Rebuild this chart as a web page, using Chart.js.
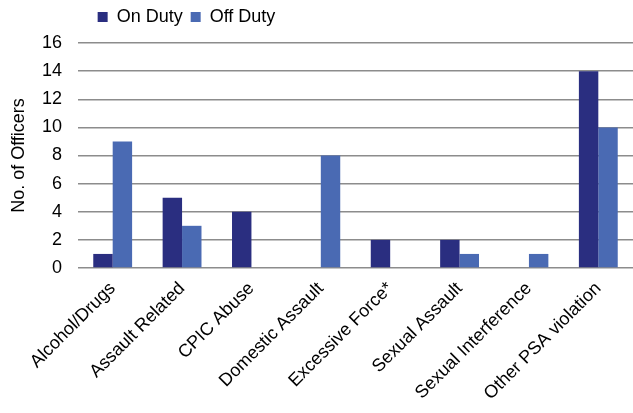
<!DOCTYPE html>
<html>
<head>
<meta charset="utf-8">
<title>Officers by Allegation Type</title>
<script src="https://cdn.jsdelivr.net/npm/chart.js@4/dist/chart.umd.min.js"></script>
<style>
    html, body { margin: 0; padding: 0; background: #fff; }
    #wrap { width: 633px; height: 413px; position: relative; }
</style>
</head>
<body>
<div id="wrap"><canvas id="officersChart"></canvas></div>
<script>
// Allegation categories and officer counts
const categories = [
    'Alcohol/Drugs', 'Assault Related', 'CPIC Abuse', 'Domestic Assault',
    'Excessive Force*', 'Sexual Assault', 'Sexual Interference', 'Other PSA violation'
];
const onDuty = [1, 5, 4, 0, 2, 2, 0, 14];
const offDuty = [9, 3, 0, 8, 0, 1, 1, 10];
const yTicks = [0, 2, 4, 6, 8, 10, 12, 14, 16];

const FONT = "'Liberation Sans', Arial, sans-serif";
const NAVY = '#2a2e80';
const BLUE = '#4a6ab3';

// Fixed legend band height, and legend centred over the left part of the chart
const legendTweak = {
    id: 'legendTweak',
    beforeLayout(chart) {
        const lg = chart.legend;
        if (!lg || lg._fitPatched) return;
        const fit = lg.fit;
        lg.fit = function () {
            fit.call(this);
            this.height = 43;
        };
        lg._fitPatched = true;
    },
    beforeDraw(chart) {
        const lg = chart.legend;
        if (!lg) return;
        lg.left = 0;
        lg.right = 373;
    }
};

const ctx = document.getElementById('officersChart').getContext('2d');

const chart = new Chart(ctx, {
    type: 'bar',
    data: {
        labels: categories,
        datasets: [
            { label: 'On Duty', data: onDuty, backgroundColor: NAVY },
            { label: 'Off Duty', data: offDuty, backgroundColor: BLUE }
        ]
    },
    options: {
        responsive: true,
        maintainAspectRatio: false,
        animation: false,
        layout: { padding: 0 },
        datasets: {
            bar: { categoryPercentage: 0.56, barPercentage: 1.0 }
        },
        plugins: {
            legend: {
                position: 'top',
                labels: {
                    boxWidth: 10,
                    boxHeight: 10,
                    padding: 8,
                    color: '#000',
                    font: { family: FONT, size: 18 }
                }
            },
            tooltip: { enabled: false }
        },
        scales: {
            x: {
                grid: { display: false },
                border: { display: false },
                ticks: {
                    color: '#000',
                    font: { family: FONT, size: 18 },
                    maxRotation: 45,
                    minRotation: 45,
                    autoSkip: false,
                    labelOffset: 0,
                    padding: 2
                },
                afterFit(scale) {
                    scale.height = 145;
                    scale.paddingRight = 0;
                    scale.paddingLeft = 0;
                }
            },
            y: {
                min: 0,
                max: 16,
                afterBuildTicks(scale) {
                    scale.ticks = yTicks.map(v => ({ value: v }));
                },
                grid: {
                    color: '#8c8c8c',
                    lineWidth: 1.4,
                    drawTicks: false
                },
                border: { display: false },
                ticks: {
                    color: '#000',
                    font: { family: FONT, size: 18 },
                    padding: 16
                },
                title: {
                    display: true,
                    text: 'No. of Officers',
                    color: '#000',
                    font: { family: FONT, size: 18 },
                    padding: { top: 8, bottom: 0 }
                },
                afterFit(scale) { scale.width = 78; }
            }
        }
    },
    plugins: [legendTweak]
});
</script>
</body>
</html>
